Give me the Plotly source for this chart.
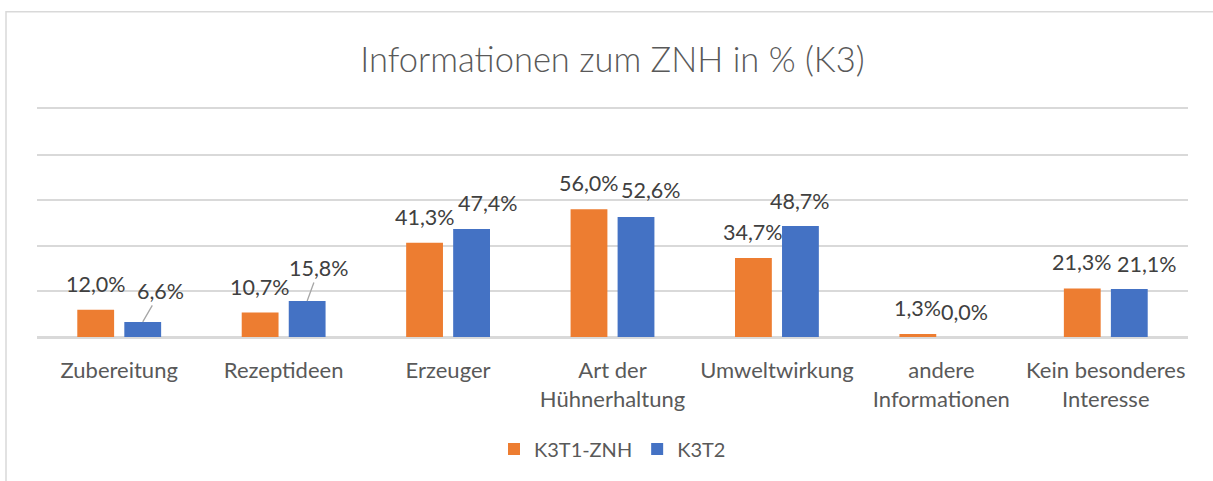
import plotly.graph_objects as go

# --- data -------------------------------------------------------------
categories = [
    "Zubereitung",
    "Rezeptideen",
    "Erzeuger",
    "Art der<br>Hühnerhaltung",
    "Umweltwirkung",
    "andere<br>Informationen",
    "Kein besonderes<br>Interesse",
]
k3t1_znh = [12.0, 10.7, 41.3, 56.0, 34.7, 1.3, 21.3]
k3t2 = [6.6, 15.8, 47.4, 52.6, 48.7, 0.0, 21.1]
series_names = ["K3T1-ZNH", "K3T2"]
title_text = "Informationen zum ZNH in % (K3)"

# --- styling ------------------------------------------------------------
ORANGE = "#ED7D31"
BLUE = "#4472C4"
GRID = "#D9D9D9"
TEXT = "#595959"
LABEL = "#404040"
FONT = "Lato"

W, H = 1213, 481
M_L, M_R, M_T, M_B = 37, 25, 109, 142

BARGAP = 0.428
GROUPGAP = 0.217

# label nudges in px (dx, dy-up) relative to the top centre of each bar
NUDGE_T1 = [(0, 26)] * 7
NUDGE_T2 = [(18, 31), (12, 33), (16, 26), (15, 27), (0, 25), (0, 25), (18, 25)]
LEADER_T2 = [True, True, False, False, False, False, False]


def fmt_pct(v):
    return f"{v:.1f}".replace(".", ",") + "%"


fig = go.Figure()
fig.add_trace(go.Bar(name=series_names[0], x=categories, y=k3t1_znh,
                     marker=dict(color=ORANGE, line=dict(width=0))))
fig.add_trace(go.Bar(name=series_names[1], x=categories, y=k3t2,
                     marker=dict(color=BLUE, line=dict(width=0))))

# offset of each bar centre from the category centre, in pixels
cat_w = (W - M_L - M_R) / len(categories)
slot = cat_w * (1 - BARGAP) / 2
offsets = [-slot / 2, slot / 2]

annotations = []
for s, (vals, nudges) in enumerate([(k3t1_znh, NUDGE_T1), (k3t2, NUDGE_T2)]):
    for i, (cat, v) in enumerate(zip(categories, vals)):
        dx, dy = nudges[i]
        leader = s == 1 and LEADER_T2[i]
        if leader:
            annotations.append(dict(
                x=cat, y=v, xref="x", yref="y", text=fmt_pct(v),
                xshift=offsets[s], showarrow=True, arrowhead=0,
                arrowwidth=1.3, arrowcolor="#A6A6A6",
                ax=dx, ay=-dy, standoff=0, startstandoff=0,
                font=dict(family=FONT, size=21.5, color=LABEL),
            ))
        else:
            annotations.append(dict(
                x=cat, y=v, xref="x", yref="y", text=fmt_pct(v),
                xshift=offsets[s] + dx, yshift=dy, showarrow=False,
                xanchor="center", yanchor="middle",
                font=dict(family=FONT, size=21.5, color=LABEL),
            ))

# outer chart frame
pw, ph = W - M_L - M_R, H - M_T - M_B
shapes = [dict(
    type="rect", xref="paper", yref="paper",
    x0=(6 - M_L) / pw, x1=(W + 20 - M_L) / pw,
    y0=-(H + 20 - (H - M_B)) / ph, y1=((H - M_B) - 11) / ph,
    line=dict(color=GRID, width=1.5), fillcolor="rgba(0,0,0,0)", layer="below",
)]

fig.update_layout(
    width=W, height=H,
    margin=dict(l=M_L, r=M_R, t=M_T, b=M_B, pad=0),
    paper_bgcolor="white", plot_bgcolor="white",
    barmode="group", bargap=BARGAP, bargroupgap=GROUPGAP,
    title=dict(text=title_text, x=0.5, xanchor="center",
               y=1 - 60 / H, yanchor="middle", xref="paper",
               font=dict(family=FONT, size=34.5, color=TEXT, weight=300)),
    font=dict(family=FONT, color=TEXT),
    legend=dict(orientation="h", x=0.5, xanchor="center",
                y=-(452 - (H - M_B)) / ph, yanchor="middle",
                font=dict(family=FONT, size=20, color=TEXT),
                itemwidth=30, traceorder="normal"),
    xaxis=dict(showgrid=False, showline=True, mirror=True,
               linecolor=GRID, linewidth=1.5, zeroline=False,
               ticks="", ticklabelstandoff=13,
               tickfont=dict(family=FONT, size=22, color=TEXT)),
    yaxis=dict(range=[0, 100], dtick=20, showticklabels=False,
               showgrid=True, gridcolor=GRID, gridwidth=1.5,
               zeroline=True, zerolinecolor=GRID, zerolinewidth=1.5,
               showline=False, ticks=""),
    annotations=annotations,
    shapes=shapes,
    showlegend=True,
)

fig.write_html("out.html")
